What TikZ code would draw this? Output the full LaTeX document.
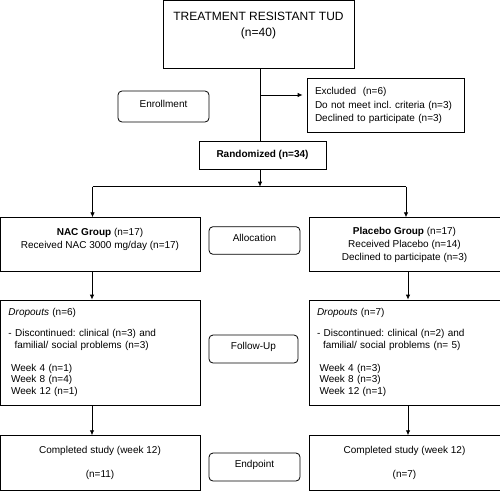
\documentclass[tikz,border=0pt]{standalone}
\usepackage{fontspec}
\setmainfont{Liberation Sans}
\usetikzlibrary{arrows.meta}
\frenchspacing
\begin{document}
\begin{tikzpicture}[x=1pt, y=-1pt,
  box/.style={draw, line width=0.8pt, inner sep=0pt, align=center, font=\fontsize{10}{13}\selectfont},
  stage/.style={box, rounded corners=4pt, text height=7pt, text depth=6pt},
  arr/.style={-{Latex[length=5pt,width=4.5pt]}, line width=0.8pt},
  line/.style={line width=0.8pt}]
  \useasboundingbox (0,0) rectangle (500,490);
  % enrollment
  \node[box, minimum width=191pt, minimum height=68.7pt, font=\fontsize{12}{16}\selectfont] (t) at (258.5,34.3) {TREATMENT RESISTANT TUD\\(n=40)\\[4pt]\mbox{}};
  \node[box, minimum width=157pt, minimum height=53.6pt, text width=141pt, align=left, font=\fontsize{10}{13.5}\selectfont] (ex) at (385.5,105.5) {Excluded\ \ (n=6)\\Do not meet incl. criteria (n=3)\\Declined to participate (n=3)};
  \node[stage, minimum width=91pt, minimum height=31pt] (en) at (163.5,106.5) {Enrollment};
  \node[box, minimum width=127pt, minimum height=27.7pt] (r) at (262.5,155.3) {\textbf{Randomized (n=34)}};
  \coordinate (c1) at (260,95);
  \coordinate (s) at (260,186.7);
  \coordinate (sl) at (92.5,186.7);
  \coordinate (sr) at (406,186.7);
  % allocation
  \node[box, minimum width=200pt, minimum height=53.6pt] (nac) at (100,244.5) {\textbf{NAC Group} (n=17)\\Received NAC 3000 mg/day (n=17)\\\mbox{}};
  \node[stage, minimum width=91pt, minimum height=27.6pt] (al) at (254.5,240.5) {Allocation};
  \node[box, minimum width=191pt, minimum height=53.6pt] (pla) at (404.5,244.5) {\textbf{Placebo Group} (n=17)\\Received Placebo (n=14)\\Declined to participate (n=3)};
  % follow-up
  \node[box, minimum width=200pt, minimum height=105pt, text width=183pt, align=left, font=\fontsize{10}{11.5}\selectfont] (dl) at (100,352.5) {\textit{Dropouts} (n=6)\\[9.5pt]- Discontinued: clinical (n=3) and\\\hspace{6pt}familial/ social problems (n=3)\\[11.5pt]\hspace{2.5pt}Week 4 (n=1)\\\hspace{2.5pt}Week 8 (n=4)\\\hspace{2.5pt}Week 12 (n=1)};
  \node[stage, minimum width=89pt, minimum height=28pt] (fu) at (253.5,349) {Follow-Up};
  \node[box, minimum width=191pt, minimum height=105pt, text width=175pt, align=left, font=\fontsize{10}{11.5}\selectfont] (dr) at (404.5,352.5) {\textit{Dropouts} (n=7)\\[9.5pt]- Discontinued: clinical (n=2) and\\\hspace{6pt}familial/ social problems (n= 5)\\[11.5pt]\hspace{2.5pt}Week 4 (n=3)\\\hspace{2.5pt}Week 8 (n=3)\\\hspace{2.5pt}Week 12 (n=1)};
  % endpoint
  \node[box, minimum width=200pt, minimum height=54.3pt] (cl) at (100,462.8) {Completed study (week 12)\\[11pt](n=11)};
  \node[stage, minimum width=91pt, minimum height=28pt] (ep) at (254.5,467) {Endpoint};
  \node[box, minimum width=191pt, minimum height=54.3pt] (cr) at (404.5,462.8) {Completed study (week 12)\\[11pt](n=7)};
  % connectors
  \draw[line] (t.south -| c1) -- (r.north -| c1);
  \draw[arr, shorten >=4pt] (c1) -- (ex.west |- c1);
  \draw[arr] (r.south -| s) -- (s);
  \draw[line] (sl) -- (sr);
  \draw[arr] (sl) -- (sl |- nac.north);
  \draw[arr] (sr) -- (sr |- pla.north);
  \draw[arr] ([xshift=-8pt]nac.south) -- ([xshift=-8pt]dl.north);
  \draw[arr] ([xshift=3.5pt]pla.south) -- ([xshift=3.5pt]dr.north);
  \draw[arr] ([xshift=-8pt]dl.south) -- ([xshift=-8pt]cl.north);
  \draw[arr] ([xshift=3.5pt]dr.south) -- ([xshift=3.5pt]cr.north);
\end{tikzpicture}
\end{document}
